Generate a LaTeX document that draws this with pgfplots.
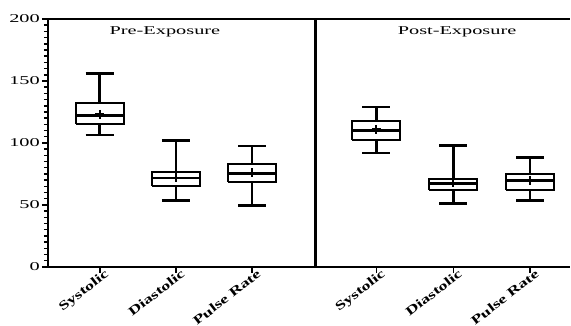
\documentclass[border=0pt]{standalone}
\usepackage{pgfplots}
\pgfplotsset{compat=1.18}
\usepackage{fontspec}
\setmainfont{Liberation Serif}[FakeStretch=1.7]
\newfontfamily\xlabfont{Liberation Serif}[FakeStretch=1.45]
\begin{document}
\begin{tikzpicture}
\begin{axis}[
  scale only axis, width=522bp, height=248bp,
  xmin=0.32, xmax=7.17, ymin=0, ymax=200,
  axis x line*=bottom, axis y line*=left,
  axis line style={line width=2.4pt, black},
  ytick={0,50,100,150,200}, minor y tick num=9,
  tick style={black, line width=1.5pt},
  major tick length=6bp, minor tick length=4bp,
  tick align=outside,
  xtick={1,2,3,4.63,5.64,6.65},
  xticklabels={Systolic,Diastolic,Pulse Rate,Systolic,Diastolic,Pulse Rate},
  xticklabel style={font=\fontsize{12.5}{15}\xlabfont\bfseries, rotate=38, anchor=north east, inner sep=0pt, xshift=6bp, yshift=1bp},
  yticklabel style={font=\fontsize{12}{14}\selectfont, inner sep=2pt},
  /pgf/number format/assume math mode=true,
  clip=false, unbounded coords=jump,
]
% boxes (Q1..Q3)
\addplot[black, line width=2pt] coordinates {
 (0.685,115.5)(1.315,115.5)(1.315,132)(0.685,132)(0.685,115.5) (nan,nan)
 (1.685,65.6)(2.315,65.6)(2.315,76.4)(1.685,76.4)(1.685,65.6) (nan,nan)
 (2.685,68.3)(3.315,68.3)(3.315,83.3)(2.685,83.3)(2.685,68.3) (nan,nan)
 (4.315,102)(4.945,102)(4.945,118)(4.315,118)(4.315,102) (nan,nan)
 (5.325,62)(5.955,62)(5.955,71)(5.325,71)(5.325,62) (nan,nan)
 (6.335,62)(6.965,62)(6.965,75.3)(6.335,75.3)(6.335,62)};
% medians
\addplot[black, line width=2.4pt] coordinates {
 (0.685,122)(1.315,122) (nan,nan) (1.685,71.5)(2.315,71.5) (nan,nan) (2.685,75.3)(3.315,75.3) (nan,nan)
 (4.315,110)(4.945,110) (nan,nan) (5.325,67.2)(5.955,67.2) (nan,nan) (6.335,69.6)(6.965,69.6)};
% whiskers
\addplot[black, line width=2.6pt] coordinates {
 (1,132)(1,156) (nan,nan) (1,115.5)(1,106.5) (nan,nan)
 (2,76.4)(2,102) (nan,nan) (2,65.6)(2,53.5) (nan,nan)
 (3,83.3)(3,97.6) (nan,nan) (3,68.3)(3,49.5) (nan,nan)
 (4.63,118)(4.63,129) (nan,nan) (4.63,102)(4.63,92) (nan,nan)
 (5.64,71)(5.64,97.8) (nan,nan) (5.64,62)(5.64,51) (nan,nan)
 (6.65,75.3)(6.65,88.2) (nan,nan) (6.65,62)(6.65,53.5)};
% caps
\addplot[black, line width=2.6pt] coordinates {
 (0.815,156)(1.185,156) (nan,nan) (0.815,106.5)(1.185,106.5) (nan,nan)
 (1.815,102)(2.185,102) (nan,nan) (1.815,53.5)(2.185,53.5) (nan,nan)
 (2.815,97.6)(3.185,97.6) (nan,nan) (2.815,49.5)(3.185,49.5) (nan,nan)
 (4.445,129)(4.815,129) (nan,nan) (4.445,92)(4.815,92) (nan,nan)
 (5.455,97.8)(5.825,97.8) (nan,nan) (5.455,51)(5.825,51) (nan,nan)
 (6.465,88.2)(6.835,88.2) (nan,nan) (6.465,53.5)(6.835,53.5)};
% means
\addplot[only marks, mark=+, mark size=4.5pt, mark options={black, line width=2.2pt}] coordinates {(1,123)(2,72)(3,76)(4.63,111)(5.64,68)(6.65,70)};
% frame pieces
\addplot[black, line width=2.4pt] coordinates {(3.83,0)(3.83,200)};
\addplot[black, line width=2.4pt] coordinates {(0.32,200)(7.17,200)};
\node[font=\fontsize{12}{14}\selectfont] at (axis cs:1.855,189.5) {Pre-Exposure};
\node[font=\fontsize{12}{14}\selectfont] at (axis cs:5.69,189.5) {Post-Exposure};
\path (rel axis cs:0,0) ++(-48bp,-56bp) rectangle ++(571bp,323bp);
\end{axis}
\end{tikzpicture}
\end{document}
